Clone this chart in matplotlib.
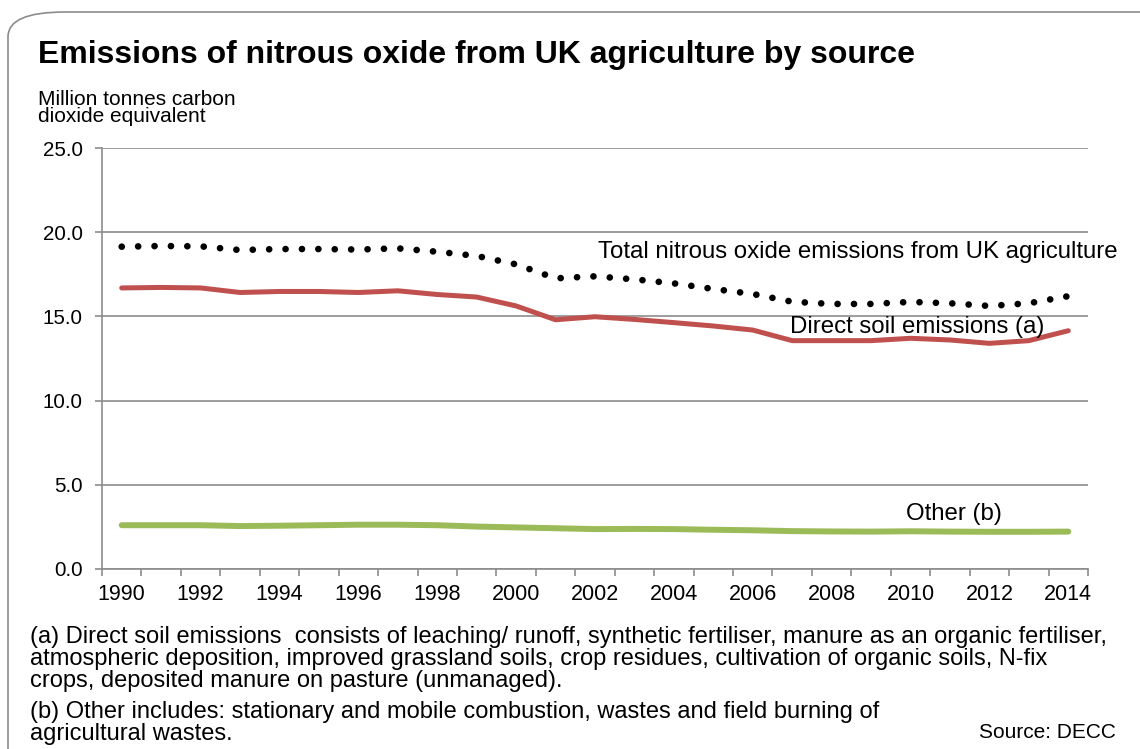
import matplotlib
matplotlib.use("Agg")
import matplotlib.pyplot as plt
from matplotlib.patches import FancyBboxPatch
import numpy as np

years = list(range(1990, 2015))
total = [19.14, 19.18, 19.16, 18.94, 19.0, 19.0, 18.97, 19.04, 18.84, 18.59,
         18.09, 17.26, 17.38, 17.2, 16.96, 16.63, 16.33, 15.87, 15.74, 15.74,
         15.86, 15.78, 15.62, 15.78, 16.2]
direct = [16.69, 16.72, 16.69, 16.42, 16.48, 16.48, 16.42, 16.52, 16.3, 16.15,
          15.62, 14.8, 14.98, 14.82, 14.63, 14.43, 14.19, 13.56, 13.56, 13.56,
          13.7, 13.6, 13.4, 13.56, 14.15]
other = [2.6, 2.6, 2.6, 2.55, 2.57, 2.6, 2.63, 2.63, 2.6, 2.52,
         2.47, 2.42, 2.37, 2.38, 2.37, 2.33, 2.3, 2.25, 2.23, 2.22,
         2.24, 2.22, 2.21, 2.21, 2.22]
yticks = [0.0, 5.0, 10.0, 15.0, 20.0, 25.0]

plt.rcParams['font.family'] = ['Liberation Sans', 'DejaVu Sans']

fig = plt.figure(figsize=(11.4, 7.49), dpi=100)
border = FancyBboxPatch((8/1140, -0.05), 1.2, 1 - 12/749 + 0.05,
                        boxstyle="round,pad=0,rounding_size=0.05",
                        transform=fig.transFigure, fill=False,
                        edgecolor='#8c8c8c', linewidth=1.2, mutation_aspect=749/1140)
fig.patches.append(border)

ax = fig.add_axes([102/1140, 1 - 569/749, (1088 - 102)/1140, (569 - 148)/749])
x = np.arange(len(years))

ax.plot(x, other, color='#9BBB59', lw=4.3, solid_capstyle='round', zorder=3)
ax.plot(x, direct, color='#C0504D', lw=3.6, solid_capstyle='round', zorder=3)
ax.plot(x, total, color='black', lw=4.8, linestyle=(0, (0.01, 2.45)),
        dash_capstyle='round', zorder=4)

ax.set_xlim(-0.5, len(years) - 0.5)
ax.set_ylim(0, 25)
ax.set_yticks(yticks)
ax.set_yticklabels([f"{v:.1f}" for v in yticks], fontsize=14.8)
ax.set_xticks(x[::2])
ax.set_xticklabels([str(y) for y in years[::2]], fontsize=15.5)
ax.set_xticks(np.arange(-0.5, len(years), 1), minor=True)
ax.tick_params(axis='x', which='major', length=0, pad=11)
ax.tick_params(axis='x', which='minor', length=5, color='#8c8c8c', width=1.2)
ax.tick_params(axis='y', length=5, color='#8c8c8c', width=1.2, pad=9)
ax.grid(axis='y', color='#8c8c8c', lw=1.2)
ax.set_axisbelow(True)
for s in ['top', 'right']:
    ax.spines[s].set_visible(False)
for s in ['left', 'bottom']:
    ax.spines[s].set_color('#8c8c8c')
    ax.spines[s].set_linewidth(1.2)

fig.text(1118/1140, 1 - 252/749, "Total nitrous oxide emissions from UK agriculture",
         fontsize=17.3, ha='right', va='center')
fig.text(790/1140, 1 - 327/749, "Direct soil emissions (a)", fontsize=17.3, ha='left', va='center')
fig.text(906/1140, 1 - 514/749, "Other (b)", fontsize=17.3, ha='left', va='center')

fig.text(38/1140, 1 - 55/749, "Emissions of nitrous oxide from UK agriculture by source",
         fontsize=23, fontweight='bold', ha='left', va='center')
fig.text(38/1140, 1 - 108/749, "Million tonnes carbon\ndioxide equivalent",
         fontsize=15, ha='left', va='center', linespacing=0.85)

fs = 17.0
fig.text(30/1140, 1 - 637/749,
         "(a) Direct soil emissions  consists of leaching/ runoff, synthetic fertiliser, manure as an organic fertiliser,",
         fontsize=fs, ha='left', va='center')
fig.text(30/1140, 1 - 659/749,
         "atmospheric deposition, improved grassland soils, crop residues, cultivation of organic soils, N-fix",
         fontsize=fs, ha='left', va='center')
fig.text(30/1140, 1 - 681/749,
         "crops, deposited manure on pasture (unmanaged).",
         fontsize=fs, ha='left', va='center')
fig.text(30/1140, 1 - 712/749,
         "(b) Other includes: stationary and mobile combustion, wastes and field burning of",
         fontsize=fs, ha='left', va='center')
fig.text(30/1140, 1 - 734/749, "agricultural wastes.", fontsize=fs, ha='left', va='center')
fig.text(1116/1140, 1 - 732/749, "Source: DECC", fontsize=15, ha='right', va='center')

fig.savefig("out.png", dpi=100)
